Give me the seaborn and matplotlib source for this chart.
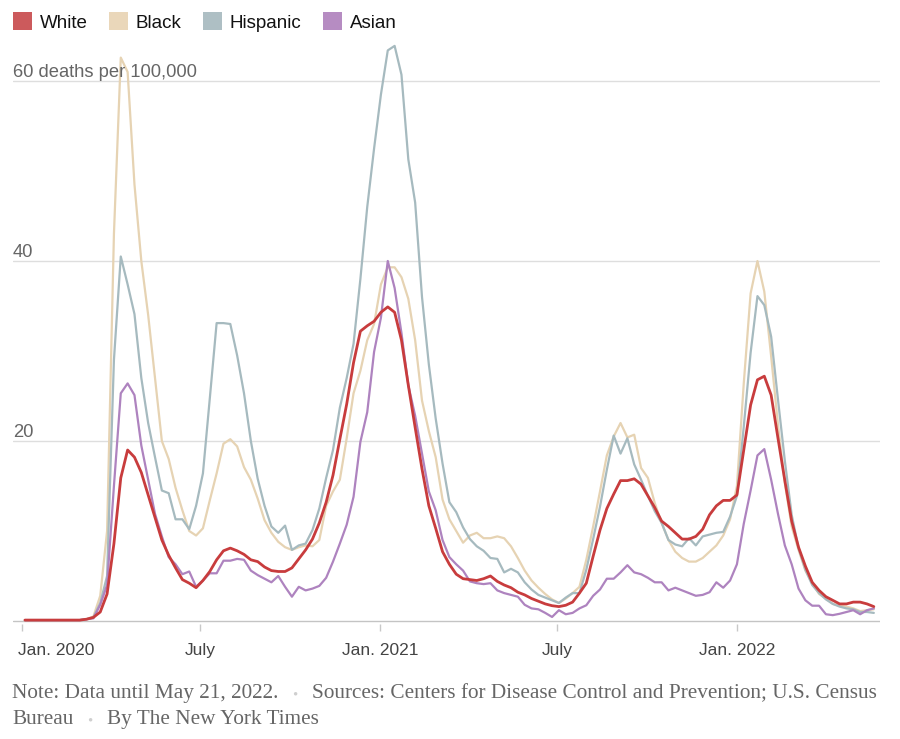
import numpy as np
import pandas as pd
import matplotlib
matplotlib.use("Agg")
import matplotlib.pyplot as plt
import matplotlib.transforms as mtrans
from matplotlib.patches import Rectangle
import seaborn as sns

# ---------------- data ----------------
categories = ["White", "Black", "Hispanic", "Asian"]
week_start = "2020-01-04"   # weekly data, last week ends May 21, 2022

white = [0.1, 0.1, 0.1, 0.1, 0.1, 0.1, 0.1, 0.1, 0.1, 0.2,
         0.4, 1.0, 3.0, 8.6, 15.9, 19.0, 18.2, 16.5, 14.0, 11.5,
         9.0, 7.3, 5.9, 4.6, 4.2, 3.7, 4.5, 5.5, 6.8, 7.8,
         8.1, 7.8, 7.4, 6.8, 6.6, 6.0, 5.6, 5.5, 5.5, 5.9,
         6.9, 7.9, 9.1, 10.9, 13.2, 16.2, 20.2, 24.1, 28.7, 32.2,
         32.8, 33.3, 34.3, 34.9, 34.3, 31.2, 26.2, 21.5, 16.9, 12.8,
         10.3, 7.7, 6.3, 5.2, 4.7, 4.6, 4.5, 4.7, 5.0, 4.4,
         4.0, 3.7, 3.2, 2.9, 2.5, 2.2, 1.9, 1.7, 1.6, 1.75,
         2.1, 3.1, 4.2, 7.2, 10.1, 12.5, 14.1, 15.6, 15.6, 15.8,
         15.2, 13.9, 12.6, 11.1, 10.5, 9.8, 9.1, 9.1, 9.4, 10.2,
         11.8, 12.8, 13.4, 13.4, 14.0, 19.0, 24.0, 26.8, 27.2, 25.1,
         20.3, 15.6, 11.1, 8.2, 6.1, 4.3, 3.4, 2.7, 2.3, 1.9,
         1.9, 2.1, 2.1, 1.9, 1.6]

black = [0.1, 0.1, 0.1, 0.1, 0.1, 0.1, 0.1, 0.1, 0.1, 0.2,
         0.5, 2.8, 10.0, 43.0, 62.6, 61.0, 48.5, 40.0, 34.0, 27.0,
         20.0, 18.0, 14.8, 12.3, 10.0, 9.5, 10.3, 13.4, 16.4, 19.7,
         20.2, 19.4, 17.1, 15.7, 13.6, 11.2, 9.8, 8.8, 8.2, 7.9,
         8.2, 8.4, 8.3, 9.0, 12.8, 14.4, 15.7, 20.3, 25.3, 27.8,
         31.2, 33.0, 37.4, 39.3, 39.3, 38.2, 35.8, 31.2, 24.5, 21.1,
         18.2, 13.5, 11.3, 10.0, 8.7, 9.5, 9.8, 9.2, 9.2, 9.4,
         9.2, 8.3, 7.0, 5.6, 4.5, 3.7, 3.0, 2.4, 2.0, 2.5,
         3.1, 3.8, 6.8, 10.5, 14.4, 18.4, 20.5, 22.0, 20.4, 20.7,
         17.0, 15.9, 13.1, 10.9, 9.0, 7.7, 7.0, 6.6, 6.6, 7.0,
         7.7, 8.4, 9.5, 11.3, 15.0, 26.4, 36.4, 40.0, 36.6, 29.4,
         21.8, 15.3, 10.5, 7.9, 5.6, 4.2, 3.0, 2.5, 1.9, 1.7,
         1.6, 1.4, 1.1, 1.2, 1.3]

hispanic = [0.1, 0.1, 0.1, 0.1, 0.1, 0.1, 0.1, 0.1, 0.1, 0.2,
            0.4, 2.0, 5.0, 29.0, 40.5, 37.4, 34.1, 27.0, 22.0, 18.2,
            14.5, 14.2, 11.3, 11.3, 10.2, 12.8, 16.4, 24.7, 33.1, 33.1,
            33.0, 29.5, 25.3, 20.0, 15.8, 12.8, 10.5, 9.8, 10.6, 7.9,
            8.4, 8.6, 10.1, 12.5, 15.9, 19.0, 23.7, 27.0, 30.8, 38.0,
            46.0, 52.5, 58.5, 63.4, 63.9, 60.7, 51.3, 46.5, 36.0, 28.5,
            22.5, 17.5, 13.2, 12.1, 10.4, 9.1, 8.3, 7.8, 7.0, 6.9,
            5.4, 5.8, 5.4, 4.3, 3.5, 2.9, 2.6, 2.3, 2.0, 2.6,
            3.1, 3.1, 5.7, 9.1, 12.7, 16.8, 20.6, 18.6, 20.3, 17.4,
            15.7, 13.9, 12.2, 10.9, 9.0, 8.5, 8.3, 9.2, 8.4, 9.4,
            9.6, 9.8, 9.9, 11.6, 13.9, 21.6, 29.8, 36.1, 35.1, 31.6,
            24.6, 17.8, 11.8, 8.1, 5.7, 4.0, 3.1, 2.4, 1.9, 1.6,
            1.4, 1.3, 1.0, 1.0, 0.9]

asian = [0.1, 0.1, 0.1, 0.1, 0.1, 0.1, 0.1, 0.1, 0.1, 0.2,
         0.3, 1.8, 4.0, 15.0, 25.3, 26.4, 25.1, 19.5, 15.7, 11.9,
         9.4, 7.1, 6.3, 5.2, 5.5, 3.8, 4.5, 5.3, 5.3, 6.7,
         6.7, 6.9, 6.8, 5.6, 5.1, 4.7, 4.3, 5.0, 3.8, 2.7,
         3.8, 3.4, 3.6, 3.9, 4.8, 6.6, 8.6, 10.7, 13.8, 19.9,
         23.2, 29.9, 33.7, 40.0, 37.0, 32.0, 26.2, 22.8, 18.6, 14.4,
         12.3, 9.0, 7.1, 6.3, 5.6, 4.4, 4.2, 4.1, 4.2, 3.4,
         3.1, 2.9, 2.7, 1.8, 1.4, 1.3, 0.9, 0.45, 1.2, 0.75,
         0.9, 1.4, 1.75, 2.8, 3.5, 4.7, 4.7, 5.4, 6.2, 5.4,
         5.2, 4.8, 4.3, 4.3, 3.4, 3.7, 3.4, 3.1, 2.8, 2.9,
         3.2, 4.3, 3.7, 4.5, 6.3, 10.8, 14.5, 18.4, 19.1, 15.7,
         11.9, 8.4, 6.3, 3.6, 2.3, 1.7, 1.7, 0.75, 0.65, 0.8,
         1.0, 1.2, 0.75, 1.2, 1.4]

x_tick_dates = ["2020-01-01", "2020-07-01", "2021-01-01", "2021-07-01", "2022-01-01"]
x_tick_labels = ["Jan. 2020", "July", "Jan. 2021", "July", "Jan. 2022"]
y_ticks = [20, 40, 60]
y_tick_labels = ["20", "40", "60 deaths per 100,000"]

note_line1 = ["Note: Data until May 21, 2022.",
              "Sources: Centers for Disease Control and Prevention; U.S. Census"]
note_line2 = ["Bureau", "By The New York Times"]

# ---------------- style ----------------
line_colors = {"White": "#c83c3d", "Black": "#e6d3b3", "Hispanic": "#a6babf", "Asian": "#ae83bf"}
legend_colors = {"White": "#cc5a5c", "Black": "#ead7ba", "Hispanic": "#aebfc4", "Asian": "#b68cc2"}
line_widths = {"White": 2.0, "Black": 1.6, "Hispanic": 1.6, "Asian": 1.6}
draw_order = ["Black", "Hispanic", "Asian", "White"]

sns.set_theme(style="white")
plt.rcParams["font.family"] = ["Liberation Sans", "DejaVu Sans"]

# ---------------- frame ----------------
dates = pd.date_range(week_start, periods=len(white), freq="7D")
series = {"White": white, "Black": black, "Hispanic": hispanic, "Asian": asian}
df = pd.DataFrame({
    "date": np.concatenate([dates for _ in categories]),
    "race": np.repeat(categories, len(dates)),
    "rate": np.concatenate([series[c] for c in categories]),
})

W, H = 900, 739
fig = plt.figure(figsize=(W / 100, H / 100), dpi=100)
ax_left_px, ax_right_px = 13, 880
base_px, ppu = 621, 9.0
ymin, ymax = -0.3, 65
bottom_px = base_px - ymin * ppu
top_px = base_px - ymax * ppu
ax = fig.add_axes([ax_left_px / W, 1 - bottom_px / H,
                   (ax_right_px - ax_left_px) / W, (bottom_px - top_px) / H])

sns.lineplot(data=df, x="date", y="rate", hue="race", hue_order=draw_order,
             palette=line_colors, estimator=None, legend=False, ax=ax)
for line, name in zip(ax.lines, draw_order):
    line.set_linewidth(line_widths[name])
    line.set_solid_joinstyle("round")
    line.set_zorder(3)

jan1 = pd.Timestamp("2020-01-01")
px_per_day = 0.978
ax.set_xlim(jan1 - pd.Timedelta(days=(22 - ax_left_px) / px_per_day),
            jan1 + pd.Timedelta(days=(ax_right_px - 22) / px_per_day))
ax.set_ylim(ymin, ymax)

for s in ax.spines.values():
    s.set_visible(False)
for v in y_ticks:
    ax.axhline(v, color="#dedede", lw=1.0, zorder=1)
ax.axhline(0, color="#c4c4c4", lw=1.0, zorder=1)

ax.set_xlabel("")
ax.set_ylabel("")
ax.set_yticks([])
ticks = pd.to_datetime(x_tick_dates)
ax.set_xticks(ticks)
ax.set_xticklabels([""] * len(ticks))
ax.tick_params(axis="x", bottom=True, direction="out", length=5, width=1, color="#c8c8c8")

# x labels
xt = mtrans.blended_transform_factory(ax.transData, fig.transFigure)
for i, (d, lbl) in enumerate(zip(ticks, x_tick_labels)):
    if i == 0:
        ax.text(18 / W, 1 - 655 / H, lbl, transform=fig.transFigure,
                ha="left", va="baseline", fontsize=12.5, color="#444444")
    else:
        ax.text(d, 1 - 655 / H, lbl, transform=xt, ha="center", va="baseline",
                fontsize=12.5, color="#444444")

# y labels
yt = mtrans.blended_transform_factory(ax.transAxes, ax.transData)
for v, lbl in zip(y_ticks, y_tick_labels):
    ax.text(0, v + 4.5 / ppu, lbl, transform=yt, ha="left", va="baseline",
            fontsize=13.2, color="#666666", zorder=4)

# ---------------- legend ----------------
fig.canvas.draw()
renderer = fig.canvas.get_renderer()
x = 13
for name in categories:
    fig.add_artist(Rectangle((x / W, 1 - 30 / H), 19 / W, 18 / H, transform=fig.transFigure,
                             facecolor=legend_colors[name], edgecolor="none"))
    t = fig.text((x + 27) / W, 1 - 27.5 / H, name, ha="left", va="baseline",
                 fontsize=13.5, color="#121212")
    bb = t.get_window_extent(renderer)
    x = bb.x1 + 21

# ---------------- footer ----------------
def place_line(parts, baseline_px):
    xx = 12
    for j, part in enumerate(parts):
        if j > 0:
            dot = fig.text((xx + 14) / W, 1 - baseline_px / H, "\u2022", ha="left", va="baseline",
                           fontsize=10.5, color="#cfcfcf", family=["Liberation Serif", "DejaVu Serif"])
            xx = dot.get_window_extent(renderer).x1 + 14
        t = fig.text(xx / W, 1 - baseline_px / H, part, ha="left", va="baseline",
                     fontsize=15.3, color="#666666", family=["Liberation Serif", "DejaVu Serif"])
        xx = t.get_window_extent(renderer).x1

place_line(note_line1, 698)
place_line(note_line2, 724)

fig.savefig("out.png", dpi=100)
